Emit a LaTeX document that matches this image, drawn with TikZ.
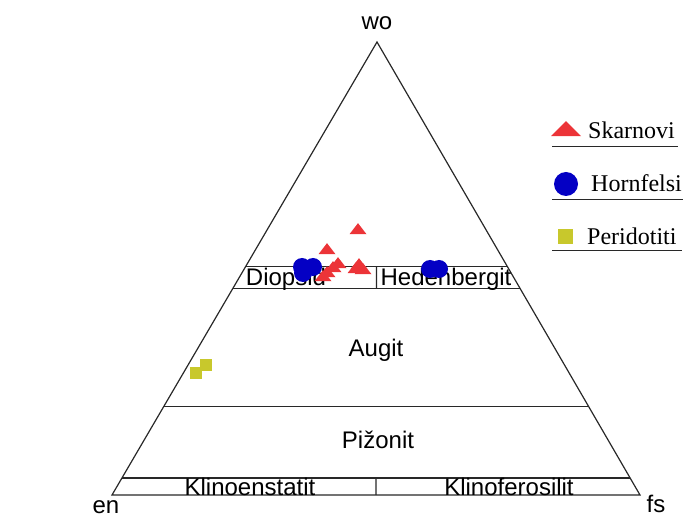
\documentclass[tikz,border=0pt]{standalone}
\usepackage{fontspec}
\setmainfont{Liberation Serif}
\setsansfont{Liberation Sans}
\usepackage{tikz}
\usetikzlibrary{calc,shapes.geometric}
\definecolor{skred}{RGB}{236,52,56}
\definecolor{hfblue}{RGB}{4,0,196}
\definecolor{pdyellow}{RGB}{200,200,44}
\definecolor{edge}{RGB}{40,40,40}

\begin{document}
\begin{tikzpicture}[x=1pt,y=-1pt,
			field/.style={font=\sffamily\fontsize{24}{24}\selectfont, inner sep=0pt, anchor=base},
			legtext/.style={font=\fontsize{24}{24}\selectfont, inner sep=0pt, anchor=base west},
			skarn/.style={isosceles triangle, isosceles triangle stretches, shape border rotate=90,
				minimum width=17pt, minimum height=11pt, fill=skred, inner sep=0pt},
			horn/.style={circle, fill=hfblue, minimum size=18pt, inner sep=0pt},
			perid/.style={rectangle, fill=pdyellow, minimum size=12pt, inner sep=0pt},
			rule/.style={color=edge, line width=1.2pt}]
			\useasboundingbox (0,0) rectangle (686,518);

			\pgfmathsetmacro\TK{0.0375}
			\pgfmathsetmacro\TP{0.196}
			\pgfmathsetmacro\TA{0.455}
			\pgfmathsetmacro\TD{0.505}

			\coordinate (en) at (112,495);
			\coordinate (fs) at (640,495);
			\coordinate (wo) at (377,42);

			\coordinate (kl) at ($(en)!\TK!(wo)$);
			\coordinate (kr) at ($(fs)!\TK!(wo)$);
			\coordinate (pl) at ($(en)!\TP!(wo)$);
			\coordinate (pr) at ($(fs)!\TP!(wo)$);
			\coordinate (al) at ($(en)!\TA!(wo)$);
			\coordinate (ar) at ($(fs)!\TA!(wo)$);
			\coordinate (dl) at ($(en)!\TD!(wo)$);
			\coordinate (dr) at ($(fs)!\TD!(wo)$);
			\coordinate (bm) at ($(en)!0.5!(fs)$);
			\coordinate (km) at ($(kl)!0.5!(kr)$);
			\coordinate (am) at ($(al)!0.5!(ar)$);
			\coordinate (dm) at ($(dl)!0.5!(dr)$);

			\draw [rule] (en) -- (fs) -- (wo) -- cycle;
			\draw [rule] (kl) -- (kr);
			\draw [rule] (pl) -- (pr);
			\draw [rule] (al) -- (ar);
			\draw [rule] (dl) -- (dr);
			\draw [rule] (bm) -- (km);
			\draw [rule] (am) -- (dm);

			\node [field] (wo-t) at (377,30) {wo};
			\node [field] (en-t) at (106,514) {en};
			\node [field] (fs-t) at (656,513) {fs};

			\node [field] (diop) at (286,286) {Diopsid};
			\node [field] (hed) at (446,286) {Hedenbergit};
			\node [field] (aug) at (376,357) {Augit};
			\node [field] (piz) at (378,449) {Pižonit};
			\node [field] (klen) at (250,496) {Klinoenstatit};
			\node [field] (klfs) at (509,496) {Klinoferosilit};

			\node [horn] (h1) at (302,267) {};
			\node [horn] (h2) at (313,267) {};
			\node [horn] (h3) at (303,273) {};
			\node [horn] (h4) at (430,269) {};
			\node [horn] (h5) at (439,269) {};

			\node [skarn] (s1) at (358,230) {};
			\node [skarn] (s2) at (327,250) {};
			\node [skarn] (s3) at (338,264) {};
			\node [skarn] (s4) at (333,268) {};
			\node [skarn] (s5) at (327,273) {};
			\node [skarn] (s6) at (323,277) {};
			\node [skarn] (s7) at (359,265) {};
			\node [skarn] (s8) at (356,269) {};
			\node [skarn] (s9) at (363,270) {};

			\node [perid] (p1) at (206,365) {};
			\node [perid] (p2) at (196,373) {};

			\node [skarn, minimum width=30pt, minimum height=15pt] (ls) at (566,130) {};
			\node [horn, minimum size=24pt] (lh) at (566,184) {};
			\node [perid, minimum size=15pt] (lp) at (565,237) {};
			\node [legtext] (ls-t) at (588,139) {Skarnovi};
			\node [legtext] (lh-t) at (591,192) {Hornfelsi};
			\node [legtext] (lp-t) at (587,245) {Peridotiti};

			\draw [rule, line width=1pt] (552,147) -- (678,147);
			\draw [rule, line width=1pt] (552,200) -- (683,200);
			\draw [rule, line width=1pt] (552,251) -- (682,251);

		\end{tikzpicture}
\end{document}
